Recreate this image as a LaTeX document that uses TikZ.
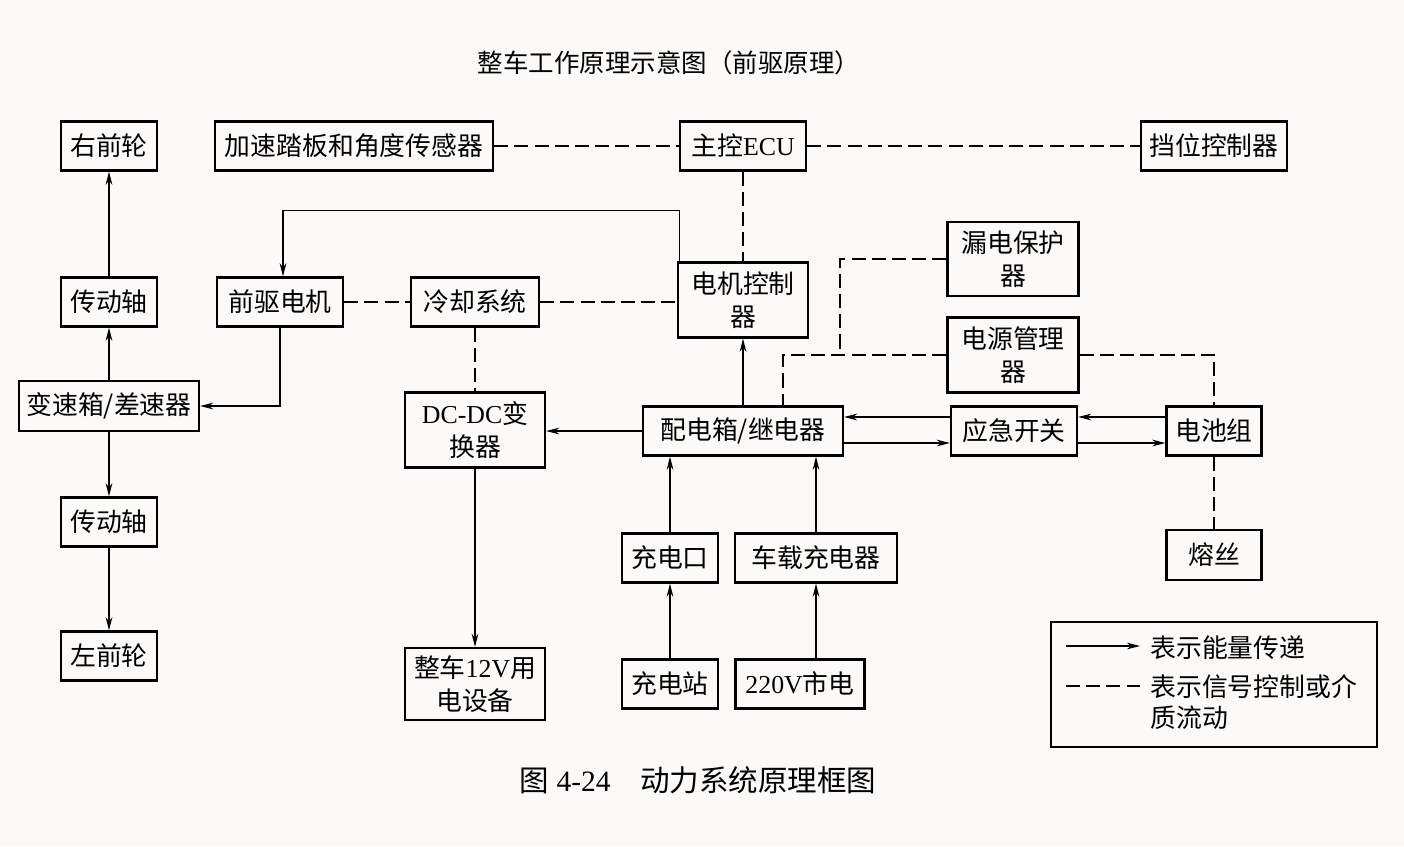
\documentclass[tikz,border=0pt]{standalone}
\usepackage{fontspec}
\setmainfont{Liberation Serif}
\newfontfamily\cjk{Noto Sans CJK SC}
\usepackage{tikz}
\usetikzlibrary{arrows.meta,positioning}
\definecolor{papier}{RGB}{251,250,246}
\tikzset{
    %Define standard arrow tip
    >={Stealth[length=7.5pt,width=3.8pt]},
    %Define style for boxes
    boks/.style={
           rectangle,
           draw=black, line width=1.3pt,
           minimum height=0.98cm,
           inner sep=1pt,
           font=\cjk\fontsize{14.7}{18.5}\selectfont,
           align=center},
    hoyboks/.style={
           boks,
           minimum height=1.5cm},
    tekst/.style={
           inner sep=0pt,
           font=\cjk\fontsize{14.7}{17.2}\selectfont,
           align=left},
    % Define arrow style
    pil/.style={
           ->,
           line width=0.6pt},
    signal/.style={
           line width=0.6pt,
           dash pattern=on 8pt off 3.5pt}
}
\begin{document}
\begin{tikzpicture}[x=0.02cm,y=-0.02cm]
\fill[papier] (0,0) rectangle (1404,846);
\useasboundingbox (0,0) rectangle (1404,846);
\node[tekst, font=\cjk\fontsize{14.5}{17}\selectfont] (titel) at (669,63) {整车工作原理示意图（前驱原理）};
% top row
\node[boks, minimum width=1.92cm] (rvh) at (109,146) {右前轮};
\node[boks, minimum width=5.56cm] (gas) at (354,146) {加速踏板和角度传感器};
\node[boks, minimum width=2.52cm] (ecu) at (743,146) {主控{\rmfamily ECU}};
\node[boks, minimum width=2.92cm] (gir) at (1214,146) {挡位控制器};
% drive line
\node[boks, minimum width=1.92cm] (ak1) at (109,302) {传动轴};
\node[boks, minimum width=3.6cm, minimum height=1cm] (vb) at (109,406) {变速箱/差速器};
\node[boks, minimum width=1.92cm] (ak2) at (109,522) {传动轴};
\node[boks, minimum width=1.92cm] (lvh) at (109,656) {左前轮};
% motor row
\node[boks, minimum width=2.52cm] (motor) at (280,302) {前驱电机};
\node[boks, minimum width=2.56cm] (kjol) at (475,302) {冷却系统};
\node[hoyboks, minimum width=2.6cm] (mk) at (743,300) {电机控制\\器};
\node[hoyboks, minimum width=2.62cm, minimum height=1.48cm] (lek) at (1013,259) {漏电保护\\器};
\node[hoyboks, minimum width=2.62cm] (bms) at (1013,355) {电源管理\\器};
% power row
\node[hoyboks, minimum width=2.8cm] (dcdc) at (475,430) {{\rmfamily DC-DC}变\\换器};
\node[boks, minimum width=4cm] (pdb) at (743,431) {配电箱/继电器};
\node[boks, minimum width=2.52cm] (nod) at (1014,431) {应急开关};
\node[boks, minimum width=1.9cm] (bat) at (1214,431) {电池组};
% charging
\node[boks, minimum width=1.92cm] (lp) at (670,558) {充电口};
\node[boks, minimum width=3.24cm] (lader) at (816,558) {车载充电器};
\node[boks, minimum width=1.9cm, minimum height=1cm] (sik) at (1214,555) {熔丝};
\node[hoyboks, minimum width=2.8cm, minimum height=1.44cm] (v12) at (475,684) {整车{\rmfamily 12V}用\\电设备};
\node[boks, minimum width=1.92cm] (stasjon) at (670,684) {充电站};
\node[boks, minimum width=2.58cm] (nett) at (800,684) {{\rmfamily 220V}市电};
\coordinate (knekk) at (840,355);
% energy flow
\path[pil]
	(ak1) edge (rvh)
	(vb) edge (ak1)
	(vb) edge (ak2)
	(ak2) edge (lvh)
	(pdb) edge (mk)
	(dcdc) edge (v12)
	(stasjon) edge (lp)
	(lp) edge (lp |- pdb.south)
	(lader) edge (lader |- pdb.south)
	(nett.north -| lader) edge (lader)
	(pdb) edge (pdb -| dcdc.east)
	([yshift=0.28cm]nod.west) edge ([yshift=0.28cm]pdb.east)
	([yshift=-0.24cm]pdb.east) edge ([yshift=-0.24cm]nod.west)
	([yshift=0.28cm]bat.west) edge ([yshift=0.28cm]nod.east)
	([yshift=-0.24cm]nod.east) edge ([yshift=-0.24cm]bat.west);
\draw[pil] (motor) |- (vb);
\draw[pil] ([xshift=0.06cm]mk.north west) -- ++(0,-51) -| ([xshift=0.06cm]motor.north);
% signals
\path[signal]
	(gas) edge (ecu)
	(ecu) edge (gir)
	(ecu) edge (mk)
	(motor) edge (kjol)
	(kjol) edge (kjol -| mk.west)
	(kjol) edge (dcdc)
	(bat) edge (sik);
\draw[signal] (bms) -| ([xshift=0.8cm]pdb.north);
\draw[signal] (bms) -| (bat);
\draw[signal] (lek) -| (knekk);
% legend
\node[draw, line width=1.3pt, minimum width=6.52cm, minimum height=2.5cm] (legende) at (1214,684.5) {};
\coordinate (l1a) at (1066,646);
\coordinate (l1b) at (1140,646);
\coordinate (l2a) at (1066,686);
\coordinate (l2b) at (1140,686);
\draw[pil] (l1a) -- (l1b);
\draw[signal] (l2a) -- (l2b);
\node[tekst, anchor=west] (e1) at (1150,648) {表示能量传递};
\node[tekst, anchor=west] (e2) at (1150,702) {表示信号控制或介\\质流动};
\node[tekst, font=\cjk\fontsize{16.8}{20}\selectfont] (tekst) at (698,780) {图{\rmfamily\ 4-24}\quad 动力系统原理框图};
\end{tikzpicture}
\end{document}
